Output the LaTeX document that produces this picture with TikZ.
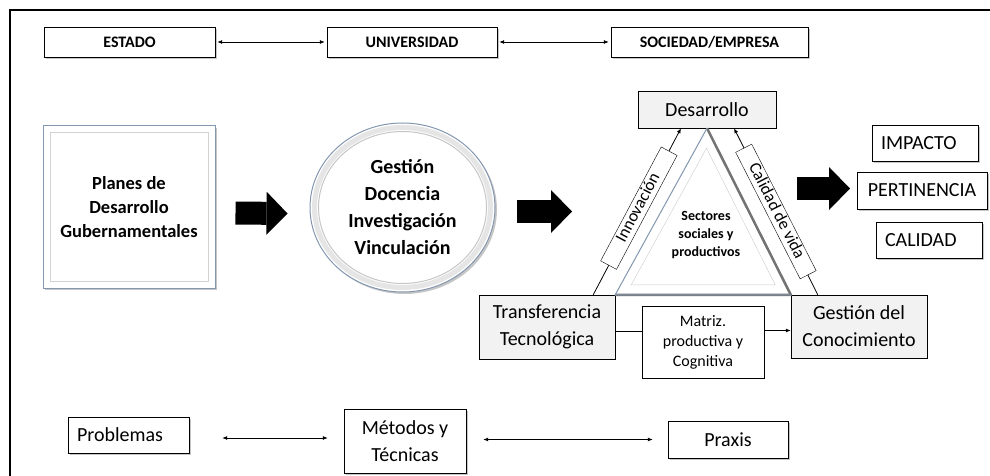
\documentclass[tikz,border=0pt]{standalone}
\usepackage{fontspec}
\setmainfont{Carlito}
\usetikzlibrary{arrows.meta,shadows,calc,shapes.geometric}
\definecolor{steel}{HTML}{8497B0}
\tikzset{
  shad/.style={drop shadow={shadow xshift=2pt,shadow yshift=-2pt,opacity=.45}},
  capbox/.style={draw, fill=white, minimum width=#1, minimum height=30pt, shad,
    font=\bfseries\fontsize{16}{19}\selectfont},
  shbox/.style 2 args={draw, fill=white, minimum width=#1, minimum height=#2, shad,
    align=center, font=\fontsize{20}{27}\selectfont},
  leftbox/.style 2 args={draw, fill=white, text width=#1-18pt, inner xsep=9pt,
    minimum height=#2, shad, align=left, font=\fontsize{20}{27}\selectfont},
  greybox/.style 2 args={draw, fill=black!5, minimum width=#1, minimum height=#2,
    align=center, font=\fontsize{20}{27}\selectfont},
  slant/.style={draw, fill=white, minimum height=18pt, text height=12pt, text depth=4pt,
    font=\fontsize{17}{19}\selectfont},
  dblarrow/.style={{Latex[length=5pt,width=4pt]}-{Latex[length=5pt,width=4pt]},
    line width=.8pt, shorten <=2pt, shorten >=2pt},
  sarrow/.style={-{Latex[length=5pt,width=4pt]}, line width=.8pt},
  blockarrow/.style={line width=23pt, -{Triangle[length=21pt,width=43pt,line width=0pt]}}
}
\begin{document}
\begin{tikzpicture}[x=1pt,y=-1pt,every node/.style={inner sep=0pt}]
\useasboundingbox (0,0) rectangle (990,476);
\draw[line width=2pt] (10,476) -- (10,10) -- (990,10);

% top row
\node[capbox=171pt] (estado) at (129.5,42) {ESTADO};
\node[capbox=170pt] (univ) at (412,42) {UNIVERSIDAD};
\node[capbox=197pt] (soc) at (709.5,42) {SOCIEDAD/EMPRESA};
\draw[dblarrow] (estado) -- (univ);
\draw[dblarrow] (univ) -- (soc);

% planes and functions
\node[draw=steel, line width=1pt, fill=white, minimum width=172pt, minimum height=162pt,
  align=center, shad, font=\bfseries\fontsize{18.5}{24}\selectfont,
  path picture={\draw[gray!35] ([shift={(7pt,-7pt)}]path picture bounding box.north west)
    rectangle ([shift={(-7pt,7pt)}]path picture bounding box.south east);}]
  (plan) at (129,207) {Planes de\\Desarrollo\\Gubernamentales};
\node[ellipse, draw=steel, line width=1pt, fill=white, minimum width=185pt, minimum height=169pt,
  align=center, shad, font=\bfseries\fontsize{20}{27}\selectfont,
  path picture={\draw[gray!20, line width=5pt] (path picture bounding box.center)
      ellipse [x radius=88pt, y radius=80pt];
    \draw[gray!45] (path picture bounding box.center) ellipse [x radius=84pt, y radius=76pt];}]
  (circ) at (402.5,207.5) {Gestión\\Docencia\\Investigación\\Vinculación};
\draw[blockarrow] ([shift={(20,6)}]plan.east) -- ([shift={(-22,6)}]circ.west);

% triangle
\node[greybox={138pt}{37pt}] (desa) at (707,109.5) {Desarrollo};
\node[greybox={136pt}{64pt}] (trans) at (547,327) {Transferencia\\Tecnológica};
\node[greybox={136pt}{63pt}] (gest) at (859,326.5) {Gestión del\\Conocimiento};
\node[draw, fill=white, minimum width=122pt, minimum height=72pt, align=center,
  font=\fontsize{16}{20}\selectfont] (matriz) at (703,342) {Matriz.\\productiva y\\Cognitiva};
\coordinate (tc) at ($0.3333*(desa.south)+0.3333*(trans.north east)+0.3333*(gest.north west)$);
\fill[white] (desa.south) -- (gest.north west) -- (trans.north east) -- cycle;
\draw[black!55, line width=2.5pt, line join=round] (desa.south) -- (gest.north west) -- (trans.north east);
\draw[steel, line width=1pt] (gest.north west) -- (trans.north east) -- (desa.south);
\draw[gray!40] ($(tc)!0.82!(desa.south)$) -- ($(tc)!0.82!(gest.north west)$)
  -- ($(tc)!0.82!(trans.north east)$) -- cycle;
\node[align=center, font=\bfseries\fontsize{14}{18}\selectfont] (sect) at (706,235)
  {Sectores\\sociales y\\productivos};
\coordinate (a2s) at (517,211.5);
\coordinate (a2e) at (572,211.5);
\draw[blockarrow] (a2s) -- (a2e);

\coordinate (innA) at ([xshift=-22pt]trans.north east);
\coordinate (innB) at ([xshift=-26pt]desa.south);
\node[slant, rotate=62, minimum width=129pt] (innov) at ($(innA)!0.52!(innB)$) {Innovación};
\draw[line width=.8pt] (innA) -- (innov);
\draw[sarrow] (innov) -- (innB);
\coordinate (calA) at ([xshift=27pt]gest.north west);
\coordinate (calB) at ([xshift=27pt]desa.south);
\node[slant, rotate=-63, minimum width=142pt] (calv) at ($(calA)!0.5!(calB)$) {Calidad de vida};
\draw[line width=.8pt] (calA) -- (calv);
\draw[sarrow] (calv) -- (calB);
\draw[line width=.8pt] ([yshift=-4pt]trans.east) -- ([yshift=-4pt]trans.east -| matriz.west);
\draw[sarrow] ([yshift=-4pt]gest.west -| matriz.east) -- ([yshift=-4pt]gest.west);

% results
\node[leftbox={106pt}{36pt}] (impacto) at (925,143) {IMPACTO};
\node[shbox={130pt}{37pt}] (pert) at (922,190.5) {PERTINENCIA};
\node[leftbox={106pt}{36pt}] (calid) at (929,240) {CALIDAD};
\coordinate (a3s) at (797,188.5);
\coordinate (a3e) at (850,188.5);
\draw[blockarrow] (a3s) -- (a3e);

% bottom row
\node[leftbox={121pt}{36pt}] (probl) at (128.5,435) {Problemas};
\node[shbox={122pt}{64pt}] (metod) at (405,441) {Métodos y\\Técnicas};
\node[shbox={120pt}{37pt}] (praxis) at (728,439.5) {Praxis};
\draw[dblarrow, shorten <=33pt, shorten >=16pt] ([yshift=-3pt]probl.east)
  -- ([yshift=-3pt]probl.east -| metod.west);
\draw[dblarrow, shorten <=17pt, shorten >=15pt] (praxis.west -| metod.east) -- (praxis.west);
\end{tikzpicture}
\end{document}
